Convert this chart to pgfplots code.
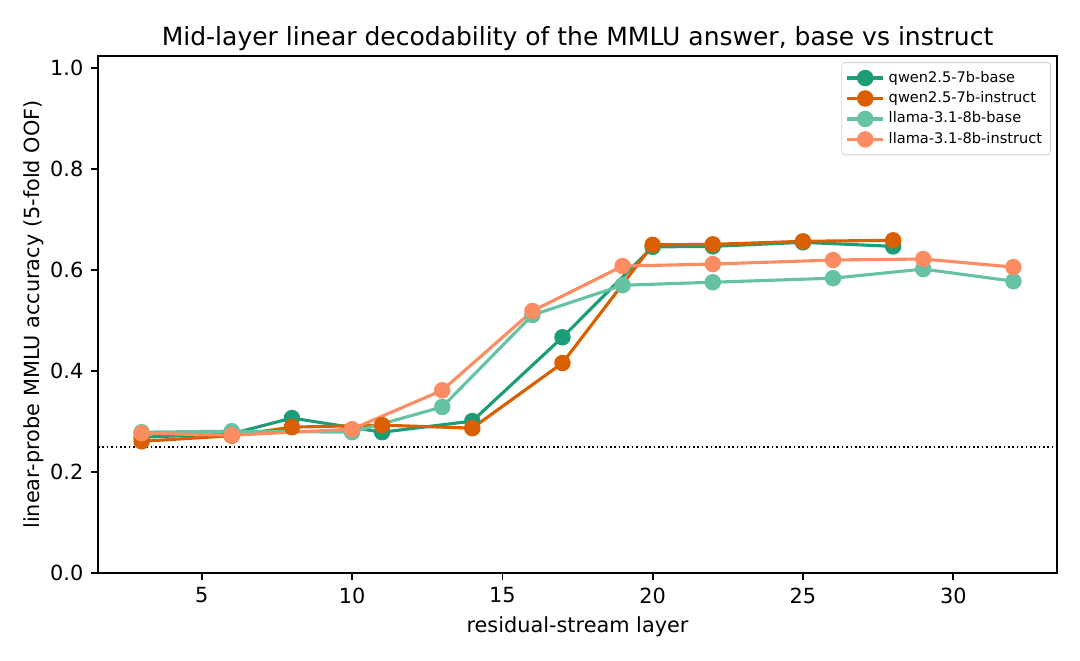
\documentclass[border=0pt]{standalone}
\usepackage{fontspec}
\setmainfont{DejaVu Sans}
\usepackage{pgfplots}
\pgfplotsset{compat=1.18}
\definecolor{c1}{HTML}{1B9E77}
\definecolor{c2}{HTML}{D95F02}
\definecolor{c3}{HTML}{66C2A5}
\definecolor{c4}{HTML}{FC8D62}
\begin{document}
\begin{tikzpicture}
\begin{axis}[
  scale only axis,
  width=460.3pt, height=248.2pt,
  xmin=1.55, xmax=33.45, ymin=0, ymax=1.024,
  xtick={5,10,15,20,25,30},
  ytick={0,0.2,0.4,0.6,0.8,1.0},
  yticklabel style={/pgf/number format/.cd,fixed,fixed zerofill,precision=1},
  /pgf/number format/assume math mode=true,
  tick align=outside, tick pos=left,
  major tick length=3.5pt,
  axis line style={line width=0.8pt},
  every tick/.style={black, line width=0.8pt},
  tick label style={font=\fontsize{10}{12}\selectfont},
  label style={font=\fontsize{10}{12}\selectfont},
  title style={font=\fontsize{12}{14}\selectfont, yshift=-7pt},
  title={Mid-layer linear decodability of the MMLU answer, base vs instruct},
  xlabel={residual-stream layer},
  ylabel={linear-probe MMLU accuracy (5-fold OOF)},
  xlabel style={yshift=0.5pt},
  ylabel style={yshift=-4pt},
  legend style={at={(0.9935,0.988)}, anchor=north east, font=\fontsize{7}{8.5}\selectfont,
    draw=black!18, rounded corners=1.5pt, inner sep=2pt, row sep=-1pt,
    cells={anchor=west}},
  legend cell align=left,
  every axis plot/.append style={line width=1.5pt, mark=*, mark size=3.2pt},
]
\addplot[c1, mark options={fill=c1, draw=none}] coordinates {
(3,0.269) (6,0.276) (8,0.307) (11,0.279) (14,0.301) (17,0.467) (20,0.646) (22,0.647) (25,0.655) (28,0.647)};
\addlegendentry{qwen2.5-7b-base}
\addplot[c2, mark options={fill=c2, draw=none}] coordinates {
(3,0.261) (6,0.272) (8,0.289) (11,0.293) (14,0.287) (17,0.416) (20,0.650) (22,0.651) (25,0.657) (28,0.659)};
\addlegendentry{qwen2.5-7b-instruct}
\addplot[c3, mark options={fill=c3, draw=none}] coordinates {
(3,0.279) (6,0.281) (10,0.279) (13,0.329) (16,0.511) (19,0.570) (22,0.576) (26,0.584) (29,0.602) (32,0.578)};
\addlegendentry{llama-3.1-8b-base}
\addplot[c4, mark options={fill=c4, draw=none}] coordinates {
(3,0.277) (6,0.273) (10,0.285) (13,0.362) (16,0.519) (19,0.608) (22,0.612) (26,0.620) (29,0.622) (32,0.606)};
\addlegendentry{llama-3.1-8b-instruct}
\addplot[black, line width=0.8pt, dash pattern=on 0.8pt off 1.3pt, mark=none, forget plot] coordinates {(1.55,0.25) (33.45,0.25)};
\end{axis}
\pgfresetboundingbox
\path (current axis.south west) ++(-47.04pt,-41.76pt) coordinate (bl);
\path (current axis.north east) ++(11.04pt,26.88pt) coordinate (tr);
\path (bl) rectangle (tr);
\end{tikzpicture}
\end{document}
